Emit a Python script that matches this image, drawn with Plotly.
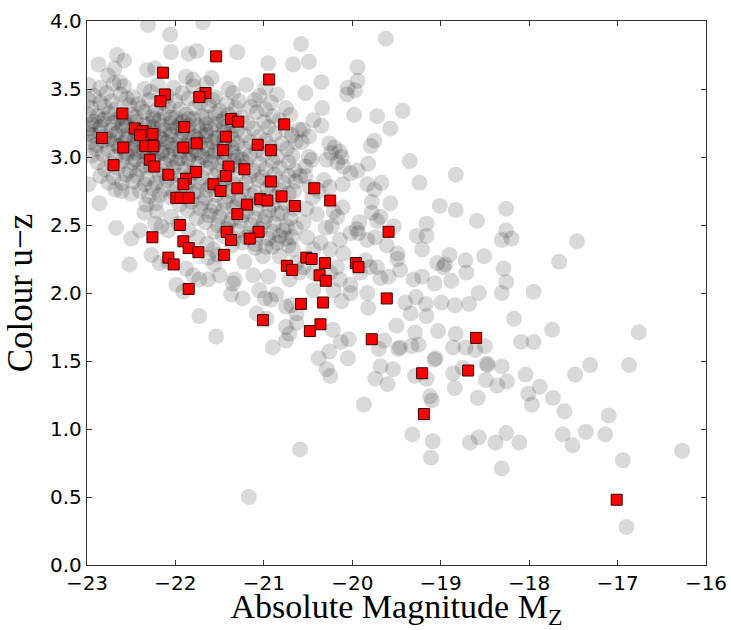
import plotly.graph_objects as go

# ---------------- red squares (sample) ----------------
red_mag = [
    -21.54, -22.14, -20.94, -22.12, -22.17, -21.66, -21.73, -22.60, -20.77, -21.37,
    -21.29, -21.90, -22.46, -22.37, -22.26, -22.40, -22.83, -21.43, -22.34, -22.25,
    -22.59, -21.91, -21.76, -21.46, -21.07, -20.92, -22.70, -22.29, -22.24, -21.40,
    -21.22, -22.08, -21.77, -21.88, -21.43, -20.92, -21.91, -21.57, -21.49, -21.30,
    -21.99, -21.94, -21.85, -21.19, -21.04, -20.96, -20.80, -20.65, -21.30, -21.95,
    -22.26, -21.42, -21.37, -21.06, -21.16, -21.91, -21.85, -21.74, -21.45, -22.08,
    -22.02, -20.74, -20.68, -21.85, -20.58, -21.01, -20.43, -20.25, -19.59, -20.52,
    -20.46, -20.31, -19.96, -19.93, -20.37, -20.30, -20.33, -19.61, -20.36, -20.48,
    -19.78, -18.60, -19.21, -18.69, -19.19, -17.01,
]
red_col = [
    3.74, 3.62, 3.57, 3.46, 3.41, 3.47, 3.44, 3.32, 3.24, 3.28,
    3.26, 3.22, 3.21, 3.19, 3.17, 3.16, 3.14, 3.15, 3.08, 3.08,
    3.07, 3.07, 3.10, 3.05, 3.09, 3.05, 2.94, 2.98, 2.93, 2.93,
    2.91, 2.87, 2.89, 2.84, 2.86, 2.82, 2.80, 2.80, 2.75, 2.77,
    2.70, 2.70, 2.70, 2.65, 2.69, 2.68, 2.71, 2.64, 2.58, 2.50,
    2.41, 2.45, 2.39, 2.45, 2.40, 2.38, 2.33, 2.30, 2.28, 2.26,
    2.21, 2.20, 2.17, 2.03, 1.92, 1.80, 2.77, 2.68, 2.45, 2.26,
    2.25, 2.22, 2.22, 2.19, 2.13, 2.09, 1.93, 1.96, 1.77, 1.72,
    1.66, 1.67, 1.41, 1.43, 1.11, 0.48,
]

# ---------------- grey circles (parent population) ----------------
# dense core, row by row
core_mag = [
    -22.98, -22.85, -22.70, -22.58, -22.35, -22.20, -22.02, -21.80, -21.65, -21.40, -21.20, -20.98,
    -22.92, -22.78, -22.62, -22.48, -22.28, -22.10, -21.92, -21.70, -21.55, -21.35, -21.05, -20.85,
    -22.98, -22.85, -22.72, -22.55, -22.42, -22.30, -22.15, -22.00, -21.85, -21.72, -21.58, -21.42, -21.28, -21.10, -20.92,
    -22.95, -22.80, -22.68, -22.52, -22.38, -22.22, -22.08, -21.95, -21.78, -21.62, -21.50, -21.32, -21.15, -20.98, -20.75,
    -22.98, -22.88, -22.75, -22.62, -22.50, -22.35, -22.25, -22.12, -22.00, -21.88, -21.70, -21.55, -21.40, -21.25, -21.08, -20.90, -20.70,
    -22.92, -22.82, -22.70, -22.58, -22.45, -22.30, -22.18, -22.05, -21.92, -21.80, -21.65, -21.48, -21.35, -21.18, -21.00, -20.82,
    -22.97, -22.85, -22.72, -22.60, -22.48, -22.38, -22.25, -22.12, -21.98, -21.85, -21.72, -21.60, -21.45, -21.30, -21.12, -20.95, -20.75,
    -22.93, -22.80, -22.68, -22.55, -22.42, -22.30, -22.18, -22.05, -21.92, -21.78, -21.66, -21.52, -21.38, -21.22, -21.05, -20.88, -20.68,
    -22.96, -22.82, -22.70, -22.58, -22.46, -22.35, -22.22, -22.10, -21.98, -21.85, -21.72, -21.58, -21.45, -21.30, -21.15, -20.98, -20.80, -20.64,
    -22.90, -22.76, -22.63, -22.50, -22.38, -22.26, -22.14, -22.02, -21.90, -21.78, -21.64, -21.50, -21.36, -21.22, -21.08, -20.92, -20.74,
    -22.95, -22.82, -22.68, -22.55, -22.44, -22.32, -22.20, -22.08, -21.95, -21.82, -21.70, -21.58, -21.44, -21.30, -21.16, -21.00, -20.85, -20.68,
    -22.88, -22.72, -22.60, -22.48, -22.36, -22.24, -22.12, -21.98, -21.86, -21.74, -21.60, -21.48, -21.34, -21.20, -21.05, -20.90, -20.72,
    -22.80, -22.65, -22.52, -22.40, -22.28, -22.15, -22.02, -21.90, -21.78, -21.65, -21.52, -21.40, -21.26, -21.12, -20.98, -20.82, -20.65,
    -22.85, -22.70, -22.56, -22.44, -22.32, -22.18, -22.06, -21.94, -21.82, -21.70, -21.56, -21.44, -21.30, -21.16, -21.02, -20.88, -20.72,
    -22.60, -22.48, -22.35, -22.22, -22.10, -21.98, -21.85, -21.72, -21.60, -21.46, -21.34, -21.20, -21.06, -20.92, -20.78, -20.64,
    -22.68, -22.40, -22.26, -22.14, -22.02, -21.88, -21.76, -21.64, -21.50, -21.38, -21.24, -21.10, -20.96, -20.82, -20.66,
    -22.30, -22.18, -22.05, -21.92, -21.80, -21.66, -21.54, -21.40, -21.28, -21.14, -21.00, -20.86, -20.72,
    -22.22, -21.95, -21.82, -21.70, -21.56, -21.44, -21.30, -21.18, -21.04, -20.90, -20.76,
    -21.86, -21.72, -21.60, -21.46, -21.34, -21.20, -21.08, -20.94, -20.80, -20.66,
    -22.05, -21.76, -21.62, -21.50, -21.36, -21.24, -21.10, -20.98, -20.84, -20.70,
    -21.96, -21.66, -21.52, -21.40, -21.26, -21.14, -21.00, -20.88, -20.74,
    -21.85, -21.56, -21.42, -21.30, -21.16, -21.04, -20.90, -20.78, -20.64,
    -21.75, -21.46, -21.34, -21.20, -21.08, -20.95, -20.82, -20.68,
    -21.64, -21.36, -21.24, -21.10, -20.98, -20.85, -20.72,
]
core_col = [
    3.53, 3.51, 3.54, 3.52, 3.50, 3.53, 3.51, 3.52, 3.54, 3.50, 3.53, 3.51,
    3.45, 3.47, 3.46, 3.44, 3.48, 3.45, 3.47, 3.46, 3.44, 3.47, 3.45, 3.46,
    3.42, 3.40, 3.41, 3.43, 3.39, 3.42, 3.40, 3.41, 3.43, 3.40, 3.42, 3.39, 3.41, 3.42, 3.40,
    3.36, 3.37, 3.35, 3.38, 3.36, 3.34, 3.37, 3.35, 3.36, 3.38, 3.34, 3.36, 3.37, 3.35, 3.36,
    3.31, 3.30, 3.32, 3.29, 3.31, 3.33, 3.30, 3.32, 3.29, 3.31, 3.30, 3.32, 3.31, 3.29, 3.33, 3.30, 3.31,
    3.26, 3.27, 3.25, 3.28, 3.26, 3.24, 3.27, 3.25, 3.26, 3.28, 3.24, 3.26, 3.27, 3.25, 3.26, 3.27,
    3.21, 3.22, 3.20, 3.23, 3.21, 3.19, 3.22, 3.20, 3.21, 3.23, 3.19, 3.21, 3.22, 3.20, 3.21, 3.22, 3.20,
    3.16, 3.15, 3.17, 3.16, 3.14, 3.17, 3.15, 3.16, 3.18, 3.15, 3.16, 3.14, 3.17, 3.16, 3.15, 3.17, 3.16,
    3.11, 3.12, 3.10, 3.11, 3.13, 3.10, 3.12, 3.11, 3.09, 3.12, 3.10, 3.11, 3.13, 3.10, 3.11, 3.12, 3.10, 3.11,
    3.06, 3.05, 3.07, 3.06, 3.04, 3.07, 3.05, 3.06, 3.08, 3.05, 3.06, 3.04, 3.07, 3.06, 3.05, 3.07, 3.06,
    3.01, 3.02, 3.00, 3.01, 3.03, 3.00, 3.02, 3.01, 2.99, 3.02, 3.00, 3.01, 3.03, 3.00, 3.01, 3.02, 3.00, 3.01,
    2.96, 2.95, 2.97, 2.96, 2.94, 2.97, 2.95, 2.96, 2.98, 2.95, 2.96, 2.94, 2.97, 2.96, 2.95, 2.97, 2.96,
    2.91, 2.92, 2.90, 2.91, 2.93, 2.90, 2.92, 2.91, 2.89, 2.92, 2.90, 2.91, 2.93, 2.90, 2.91, 2.92, 2.90,
    2.86, 2.85, 2.87, 2.86, 2.84, 2.87, 2.85, 2.86, 2.88, 2.85, 2.86, 2.84, 2.87, 2.86, 2.85, 2.87, 2.86,
    2.81, 2.82, 2.80, 2.81, 2.83, 2.80, 2.82, 2.81, 2.79, 2.82, 2.80, 2.81, 2.83, 2.80, 2.81, 2.82,
    2.76, 2.75, 2.77, 2.76, 2.74, 2.77, 2.75, 2.76, 2.78, 2.75, 2.76, 2.74, 2.77, 2.76, 2.75,
    2.71, 2.72, 2.70, 2.71, 2.73, 2.70, 2.72, 2.71, 2.69, 2.72, 2.70, 2.71, 2.73,
    2.66, 2.65, 2.67, 2.66, 2.64, 2.67, 2.65, 2.66, 2.68, 2.65, 2.66,
    2.61, 2.62, 2.60, 2.61, 2.63, 2.60, 2.62, 2.61, 2.59, 2.62,
    2.56, 2.55, 2.57, 2.56, 2.54, 2.57, 2.55, 2.56, 2.58, 2.55,
    2.51, 2.52, 2.50, 2.51, 2.53, 2.50, 2.52, 2.51, 2.49,
    2.46, 2.45, 2.47, 2.46, 2.44, 2.47, 2.45, 2.46, 2.48,
    2.41, 2.42, 2.40, 2.41, 2.43, 2.40, 2.42, 2.41,
    2.36, 2.35, 2.37, 2.36, 2.34, 2.37, 2.35,
]

# darkest part of the cloud
dark_mag = [
    -22.65, -22.45, -22.25, -22.05, -21.85, -21.65, -21.45,
    -22.55, -22.35, -22.15, -21.95, -21.75, -21.55, -21.35,
    -22.65, -22.45, -22.25, -22.05, -21.85, -21.65, -21.45,
    -22.55, -22.35, -22.15, -21.95, -21.75, -21.55, -21.35,
    -22.65, -22.45, -22.25, -22.05, -21.85, -21.65, -21.45,
    -22.55, -22.35, -22.15, -21.95, -21.75, -21.55, -21.35,
    -22.45, -22.25, -22.05, -21.85, -21.65, -21.45, -21.25,
    -22.95, -22.85, -22.75, -22.90, -22.98, -22.80,
]
dark_col = [
    3.28, 3.29, 3.28, 3.29, 3.28, 3.29, 3.28,
    3.23, 3.24, 3.23, 3.24, 3.23, 3.24, 3.23,
    3.18, 3.19, 3.18, 3.19, 3.18, 3.19, 3.18,
    3.13, 3.14, 3.13, 3.14, 3.13, 3.14, 3.13,
    3.08, 3.09, 3.08, 3.09, 3.08, 3.09, 3.08,
    3.03, 3.04, 3.03, 3.04, 3.03, 3.04, 3.03,
    2.98, 2.99, 2.98, 2.99, 2.98, 2.99, 2.98,
    3.24, 3.18, 3.13, 3.09, 3.17, 3.28,
]

# scattered outskirts
outer_mag = [
    -22.31, -21.69, -22.06, -22.05, -21.85, -21.76, -21.30, -20.95, -20.67, -20.58, -22.66, -22.58, -22.87, -22.69, -22.76, -22.32, -22.23, -22.63, -21.88, -21.80, -21.59, -20.60,
    -19.62, -20.49, -19.94, -20.35, -19.94, -20.05, -20.06, -19.97, -20.53, -20.34, -19.98, -19.72, -19.43, -19.57, -20.44, -20.35, -20.56, -20.49, -20.57, -19.75, -19.79,
    -20.26, -20.20, -20.14, -20.12, -20.17, -20.10, -20.24, -20.29, -20.49, -20.46, -20.53, -20.59, -20.53, -19.35, -19.82, -19.94, -20.02, -19.24, -18.83, -19.67, -19.75, -19.83,
    -20.11, -20.26, -20.32, -19.78, -19.57, -19.01, -18.83, -18.59, -20.11, -20.21, -20.17, -19.78, -19.68, -19.72, -19.92, -19.95, -20.02, -19.16, -19.27, -19.16, -19.21,
    -19.53, -19.61, -19.49, -19.46, -19.59, -19.72, -19.85, -18.97, -19.21, -20.14, -20.25, -20.36, -20.44, -20.51, -20.23, -20.30, -19.93, -19.83, -19.74, -20.10, -20.44, -20.55,
    -20.02, -20.14, -20.25, -19.91, -20.17, -19.80, -19.68, -19.49, -20.45, -20.52, -20.40, -20.55, -20.38, -20.48,
    -18.90, -18.51, -19.04, -18.95, -18.72, -18.29, -19.31, -18.88, -18.71, -19.07, -19.40, -19.28, -19.17, -18.99, -18.84, -18.68, -18.57, -19.34, -19.16, -19.29, -19.03, -18.83,
    -19.46, -19.33, -19.25, -18.86, -18.72, -18.61, -18.50, -19.06, -19.07, -18.48, -18.47, -19.29, -19.16, -18.86, -18.75, -18.84, -18.49, -18.36, -19.12, -19.10, -18.58,
    -19.32, -19.09, -19.11, -18.67, -18.57, -18.38,
    -18.26, -18.26, -18.31, -18.20, -17.46, -17.66, -18.26, -18.31, -17.95, -18.17, -17.74, -16.76, -18.09, -17.95, -18.31, -17.31, -16.87, -17.48, -18.04, -18.25,
    -17.88, -18.01, -17.73, -17.97, -17.60, -17.10, -18.26, -17.62, -17.36, -17.14, -18.11, -17.51, -18.31, -16.94, -16.27, -16.90,
    -20.25, -20.29, -20.38, -20.26, -20.05, -20.04, -20.13, -20.22, -19.74, -19.60, -19.68, -19.54, -19.70, -19.64, -19.48, -19.50, -19.83, -19.82, -20.02, -20.12, -20.21, -20.44, -19.87, -20.59,
    -22.86, -22.67, -22.52, -22.50, -22.40, -22.61, -22.50, -22.76, -22.27, -22.18, -22.08, -22.33, -22.21, -22.35, -22.16, -22.08, -22.23, -21.88, -21.80, -21.73, -21.63, -21.99,
    -21.91, -21.73, -21.54, -21.50, -21.35, -21.37, -21.24, -21.33, -21.22, -21.12, -21.05, -20.99, -20.92, -20.86, -20.95, -21.56, -21.63, -21.52, -21.57, -20.63, -20.75, -20.71,
    -21.08, -20.97, -20.75, -20.69, -20.63, -20.90, -20.75, -20.67, -20.82, -20.63, -21.10, -21.01, -20.71, -20.60, -20.90, -20.75, -21.17, -22.98,
]
outer_col = [
    3.97, 3.99, 3.90, 3.77, 3.76, 3.78, 3.77, 3.69, 3.68, 3.83, 3.75, 3.71, 3.68, 3.65, 3.60, 3.64, 3.65, 3.55, 3.59, 3.57, 3.58, 3.20,
    3.87, 3.70, 3.66, 3.55, 3.56, 3.51, 3.46, 3.49, 3.47, 3.36, 3.31, 3.30, 3.34, 3.21, 3.27, 3.23, 3.20, 3.15, 3.11, 3.12, 3.08,
    3.10, 3.07, 3.04, 3.00, 2.96, 2.93, 3.03, 2.98, 3.00, 2.98, 2.93, 2.86, 2.86, 2.97, 2.95, 2.90, 2.88, 2.81, 2.87, 2.81, 2.76, 2.80,
    2.80, 2.78, 2.83, 2.67, 2.66, 2.64, 2.61, 2.53, 2.63, 2.60, 2.56, 2.59, 2.56, 2.53, 2.52, 2.47, 2.44, 2.51, 2.42, 2.42, 2.32,
    2.49, 2.35, 2.25, 2.17, 2.12, 2.19, 2.24, 2.19, 2.12, 2.39, 2.32, 2.37, 2.32, 2.41, 2.49, 2.48, 2.44, 2.39, 2.41, 2.29, 2.15, 2.19,
    2.06, 2.10, 2.15, 2.15, 2.19, 2.19, 2.11, 2.29, 2.70, 2.62, 2.58, 2.52, 2.75, 2.78,
    2.28, 2.27, 2.22, 2.21, 2.24, 2.18, 2.10, 2.09, 2.15, 2.07, 1.93, 1.97, 1.92, 1.93, 1.91, 1.92, 2.00, 1.85, 1.83, 1.71, 1.72, 1.70,
    1.60, 1.61, 1.62, 1.60, 1.60, 1.58, 1.61, 1.52, 1.51, 1.48, 1.47, 1.39, 1.37, 1.41, 1.45, 1.30, 1.36, 1.32, 1.24, 1.21, 1.23,
    0.96, 0.91, 0.79, 0.90, 0.94, 0.90,
    2.62, 2.46, 2.39, 2.40, 2.38, 2.23, 2.08, 2.00, 2.01, 1.81, 1.73, 1.71, 1.64, 1.64, 1.46, 1.47, 1.47, 1.40, 1.40, 1.35,
    1.31, 1.26, 1.23, 1.18, 1.13, 1.10, 0.97, 0.96, 0.98, 0.96, 0.90, 0.88, 0.71, 0.77, 0.84, 0.28,
    1.39, 1.44, 1.52, 1.57, 1.52, 1.66, 1.64, 1.73, 1.37, 1.33, 1.46, 1.44, 1.59, 1.65, 1.59, 1.76, 2.00, 1.89, 2.00, 1.94, 2.02, 2.02, 1.18, 0.85,
    2.66, 2.48, 2.21, 2.40, 2.46, 2.75, 2.73, 2.81, 2.28, 2.22, 2.23, 2.65, 2.60, 2.59, 2.49, 2.46, 2.51, 2.18, 2.13, 2.10, 2.10, 2.06,
    2.01, 1.83, 1.68, 2.13, 2.07, 1.99, 1.96, 2.10, 2.23, 2.13, 2.02, 1.96, 1.95, 1.99, 2.12, 2.21, 2.26, 2.28, 2.32, 1.78, 1.75, 1.70,
    1.85, 1.81, 1.90, 1.91, 1.85, 2.34, 2.40, 2.32, 2.27, 2.22, 2.33, 2.27, 2.10, 2.15, 1.60, 1.65, 0.50, 2.80,
]

x_ticks = [-23, -22, -21, -20, -19, -18, -17, -16]
y_ticks = [0.0, 0.5, 1.0, 1.5, 2.0, 2.5, 3.0, 3.5, 4.0]

assert len(core_mag) == len(core_col)
assert len(dark_mag) == len(dark_col)
assert len(outer_mag) == len(outer_col)
assert len(red_mag) == len(red_col)

grey_mag = core_mag + dark_mag + outer_mag
grey_col = core_col + dark_col + outer_col

fig = go.Figure()
fig.add_trace(go.Scatter(
    x=grey_mag, y=grey_col, mode="markers",
    marker=dict(size=16, color="rgba(0,0,0,0.15)", line=dict(width=0)),
    hoverinfo="skip", showlegend=False,
))
fig.add_trace(go.Scatter(
    x=red_mag, y=red_col, mode="markers",
    marker=dict(symbol="square", size=11, color="#ff0000",
                line=dict(color="#3a0000", width=1)),
    showlegend=False,
))

axis_common = dict(
    showgrid=False, zeroline=False, showline=True, linecolor="#333333",
    linewidth=1.3, mirror="ticks", ticks="inside", ticklen=5,
    tickcolor="#333333", tickwidth=1,
    tickfont=dict(family="DejaVu Sans", size=20, color="black"),
    automargin=False,
)

fig.update_layout(
    width=731, height=630,
    margin=dict(l=87, r=25, t=21, b=65),
    paper_bgcolor="white", plot_bgcolor="white",
    xaxis=dict(
        range=[-23, -16], tickmode="array", tickvals=x_ticks,
        title=dict(text="Absolute Magnitude M<sub>Z</sub>",
                   font=dict(family="Liberation Serif", size=34, color="black"),
                   standoff=12),
        **axis_common,
    ),
    yaxis=dict(
        range=[0, 4], tickmode="array", tickvals=y_ticks, tickformat=".1f",
        title=dict(text="Colour u\u2212z",
                   font=dict(family="Liberation Serif", size=35, color="black"),
                   standoff=6),
        **axis_common,
    ),
)

fig.write_html("out.html")
